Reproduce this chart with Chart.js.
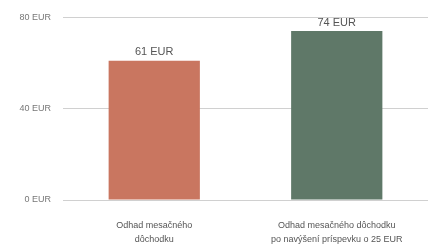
<!DOCTYPE html>
<html><head><meta charset="utf-8">
<script src="https://cdn.jsdelivr.net/npm/chart.js@4"></script>
<style>html,body{margin:0;padding:0;background:#fff}#wrap{width:428px;height:247px}</style>
</head><body><div id="wrap"><canvas id="c" width="428" height="247"></canvas></div>
<script>
const categories = [["Odhad mesačného","dôchodku"],["Odhad mesačného dôchodku","po navýšení príspevku o 25 EUR"]];
const values = [61, 74];
const valueLabels = ["61 EUR","74 EUR"];
const yTicks = [0, 40, 80];
const colors = ["#C97660","#5F7868"];

const labelPlugin = {
  id:'vlabels',
  afterDatasetsDraw(chart){
    const ctx = chart.ctx;
    const meta = chart.getDatasetMeta(0);
    ctx.save();
    ctx.font = '11px "Liberation Sans", Arial, sans-serif';
    ctx.fillStyle = '#555';
    ctx.textAlign = 'center';
    ctx.textBaseline = 'bottom';
    meta.data.forEach((bar,i)=>{
      ctx.fillText(valueLabels[i], bar.x, bar.y - 3);
    });
    ctx.restore();
  }
};

new Chart(document.getElementById('c'), {
  type:'bar',
  data:{labels:categories, datasets:[{data:values, backgroundColor:colors, barPercentage:0.5, categoryPercentage:1}]},
  options:{
    responsive:false, animation:false, devicePixelRatio:1,
    layout:{padding:{top:10,right:0,bottom:0,left:0}},
    plugins:{legend:{display:false}, tooltip:{enabled:false}},
    scales:{
      x:{grid:{display:false, drawTicks:false}, border:{display:false},
         afterFit(s){s.height = 47;},
         ticks:{color:'#555', font:{size:9, lineHeight:1.55, family:'"Liberation Sans", Arial, sans-serif'}, padding:19, maxRotation:0, autoSkip:false}},
      y:{min:0,max:80, afterBuildTicks(s){s.ticks = yTicks.map(v=>({value:v}));},
         afterFit(s){s.width = 63;},
         grid:{color:'#d0d0d0', drawTicks:false}, border:{display:false},
         ticks:{color:'#777', padding:12, font:{size:9, family:'"Liberation Sans", Arial, sans-serif'}, callback:v=>v+' EUR'}}
    }
  },
  plugins:[labelPlugin]
});
</script></body></html>
